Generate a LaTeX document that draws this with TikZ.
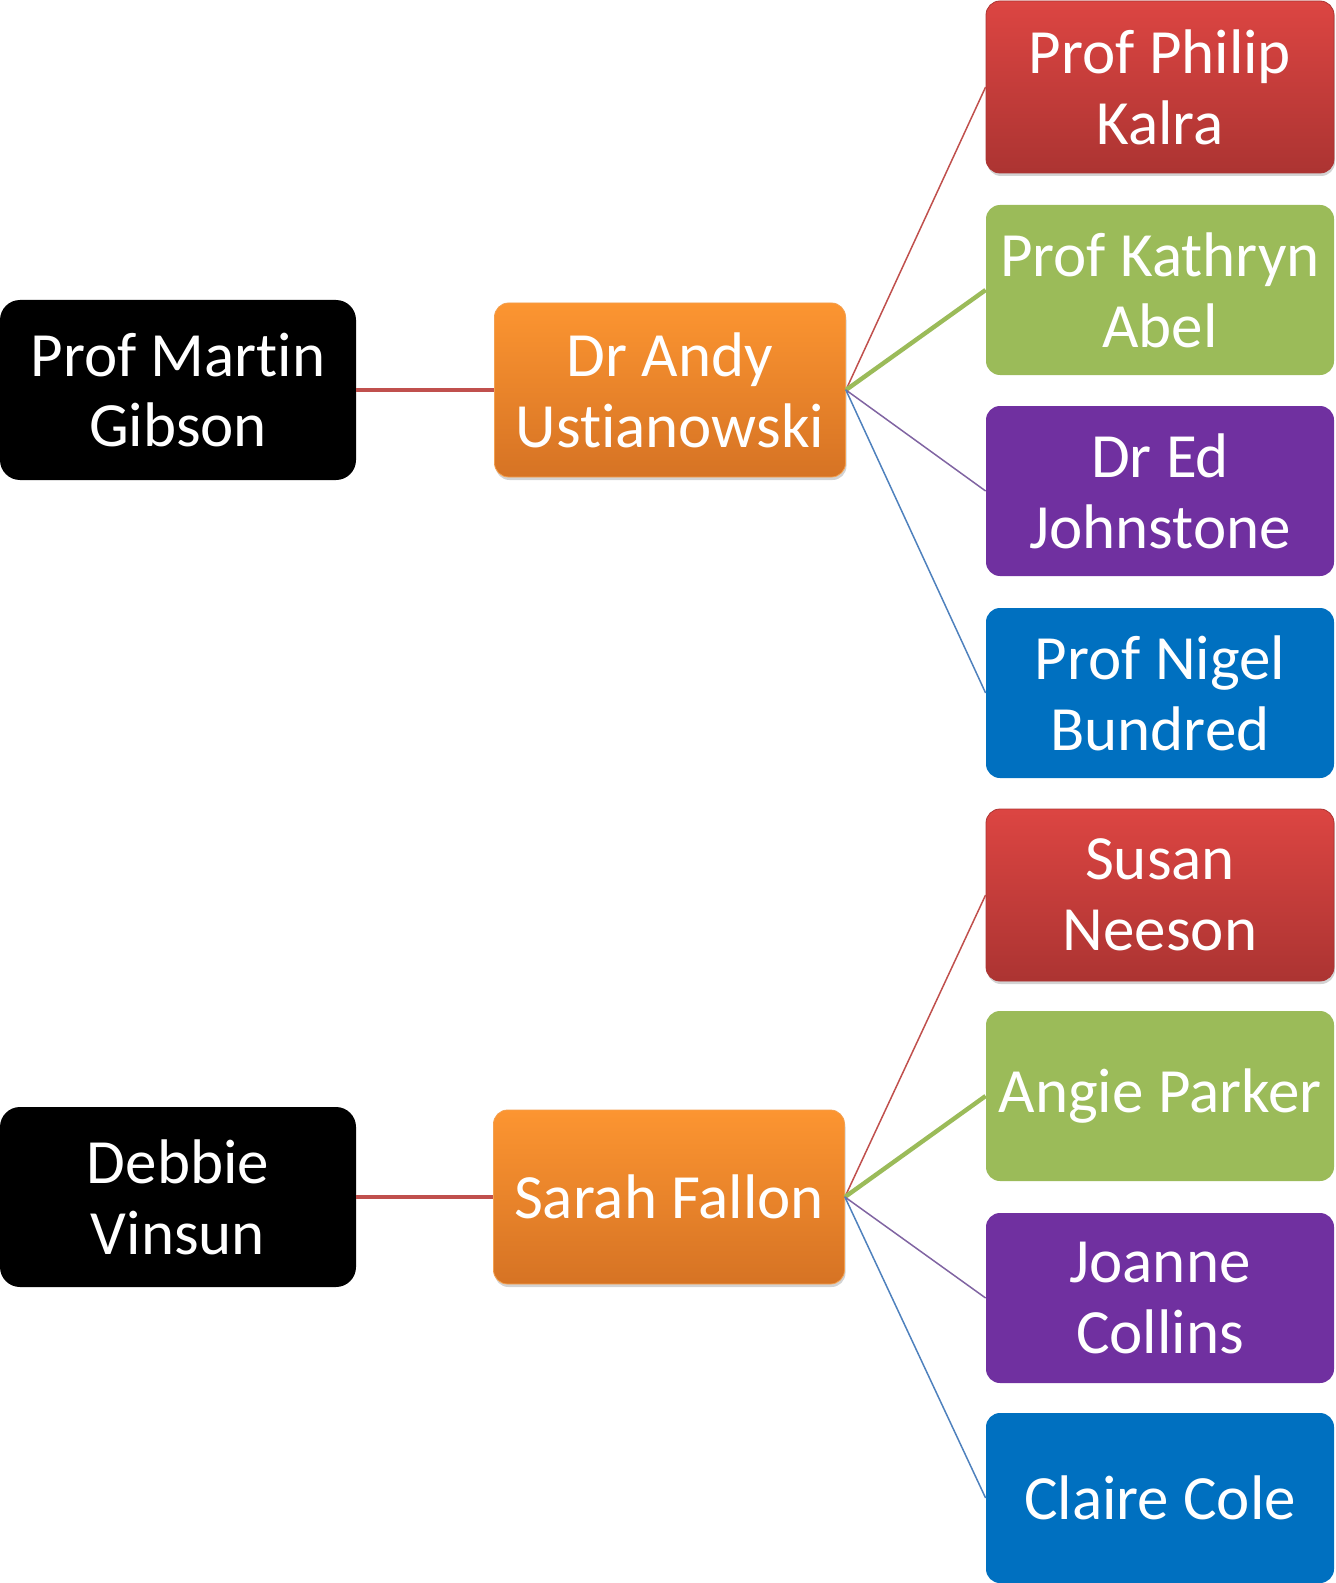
\documentclass[tikz,border=0pt]{standalone}
\usepackage{fontspec}
\setmainfont{Carlito}[Ligatures={NoCommon}]
\usetikzlibrary{shapes,shadows,positioning}

\definecolor{cred}{HTML}{C0504D}
\definecolor{cgreen}{HTML}{9BBB59}
\definecolor{cpurple}{HTML}{7030A0}
\definecolor{cblue}{HTML}{0070C0}
\definecolor{lpurple}{HTML}{8064A2}
\definecolor{lblue}{HTML}{4F81BD}
\definecolor{otop}{HTML}{FC9531}
\definecolor{obot}{HTML}{D67324}
\definecolor{oline}{HTML}{F3A050}
\definecolor{rtop}{HTML}{DC4542}
\definecolor{rbot}{HTML}{AC3432}

\begin{document}
\begin{tikzpicture}[
    x=0.5pt,y=-0.5pt,
    box/.style={rectangle,rounded corners=7pt,minimum width=174pt,minimum height=85pt,
                align=center,text=white,font=\fontsize{31.5}{35.4}\selectfont,inner sep=1pt},
    lead/.style={box,fill=black,rounded corners=10pt,minimum width=178pt,minimum height=90pt},
    coord/.style={box,top color=otop,bottom color=obot,draw=oline,
                  minimum width=175.5pt,minimum height=87pt,
                  drop shadow={opacity=0.35,shadow xshift=0.5pt,shadow yshift=-1.5pt}},
    redbox/.style={box,top color=rtop,bottom color=rbot,draw=rbot,minimum height=86pt,
                   drop shadow={opacity=0.35,shadow xshift=0.5pt,shadow yshift=-1.5pt}},
    greenbox/.style={box,fill=cgreen},
    purplebox/.style={box,fill=cpurple},
    bluebox/.style={box,fill=cblue},
    link/.style={line width=0.75pt},
    biglink/.style={line width=2.2pt}
]
\useasboundingbox (0,0) rectangle (1336,1583);

% Leads
\node[lead] (martin) at (178,390) {Prof Martin\\Gibson};
\node[lead] (debbie) at (178,1197) {Debbie\\Vinsun};

% Coordinators
\node[coord] (andy) at (670,390) {Dr Andy\\Ustianowski};
\node[coord] (sarah) at (669,1197) {Sarah Fallon};

% First team
\node[redbox] (philip) at (1160,87) {Prof Philip\\Kalra};
\node[greenbox] (kathryn) at (1160,290) {Prof Kathryn\\Abel};
\node[purplebox] (ed) at (1160,491) {Dr Ed\\Johnstone};
\node[bluebox] (nigel) at (1160,693) {Prof Nigel\\Bundred};

% Second team
\node[redbox] (susan) at (1160,895) {Susan\\Neeson};
\node[greenbox] (angie) at (1160,1096) {Angie Parker};
\node[purplebox] (joanne) at (1160,1298) {Joanne\\Collins};
\node[bluebox] (claire) at (1160,1498) {Claire Cole};

% Links
\draw[biglink,cred] (martin.east) -- (andy.west);
\draw[biglink,cred] (debbie.east) -- (sarah.west);
\draw[link,cred] (andy.east) -- (philip.west);
\draw[biglink,cgreen] (andy.east) -- (kathryn.west);
\draw[link,lpurple] (andy.east) -- (ed.west);
\draw[link,lblue] (andy.east) -- (nigel.west);
\draw[link,cred] (sarah.east) -- (susan.west);
\draw[biglink,cgreen] (sarah.east) -- (angie.west);
\draw[link,lpurple] (sarah.east) -- (joanne.west);
\draw[link,lblue] (sarah.east) -- (claire.west);

\end{tikzpicture}
\end{document}
